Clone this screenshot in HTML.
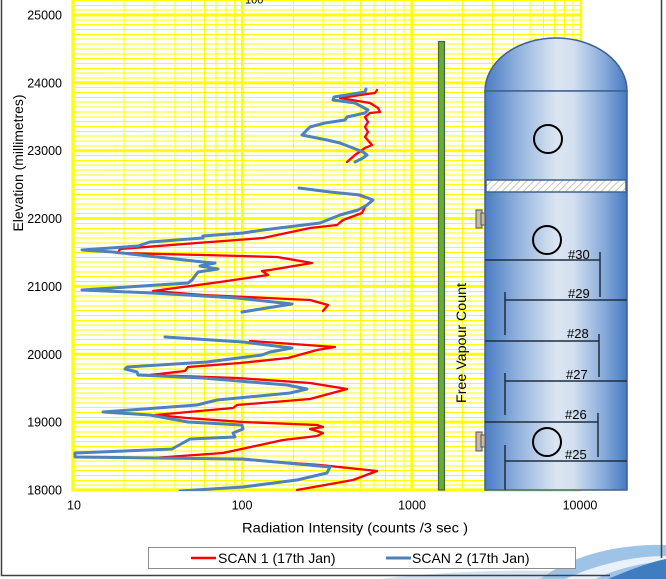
<!DOCTYPE html>
<html><head><meta charset="utf-8"><style>
html,body{margin:0;padding:0;background:#fff;}
svg{display:block;}
text{font-family:"Liberation Sans",Arial,sans-serif;fill:#000;}
</style></head><body>
<svg width="666" height="579" viewBox="0 0 666 579" xmlns="http://www.w3.org/2000/svg">
<defs>
<linearGradient id="vg" x1="485" y1="0" x2="627" y2="0" gradientUnits="userSpaceOnUse">
<stop offset="0" stop-color="#4a7cc4"/>
<stop offset="0.25" stop-color="#97b6df"/>
<stop offset="0.5" stop-color="#dbe5f2"/>
<stop offset="0.62" stop-color="#d4e0f0"/>
<stop offset="0.85" stop-color="#82a7d8"/>
<stop offset="1" stop-color="#4679c2"/>
</linearGradient>
<pattern id="hatch" width="5" height="5" patternUnits="userSpaceOnUse" patternTransform="rotate(45)">
<rect width="5" height="5" fill="#fff"/>
<line x1="0" y1="0" x2="0" y2="5" stroke="#b5b5b5" stroke-width="1.6"/>
</pattern>
<clipPath id="pc"><rect x="73" y="0" width="509" height="491"/></clipPath>
</defs>
<rect width="666" height="579" fill="#fff"/>

<!-- minor horizontal grid -->
<path fill="none" stroke="#ffff00" stroke-width="1" shape-rendering="crispEdges" d="
M73,485.15H581M73,480.31H581M73,475.46H581M73,470.61H581M73,465.77H581M73,460.92H581M73,456.07H581M73,451.22H581M73,446.38H581M73,441.53H581M73,436.68H581M73,431.84H581M73,426.99H581
M73,417.29H581M73,412.45H581M73,407.6H581M73,402.75H581M73,397.9H581M73,393.06H581M73,388.21H581M73,383.36H581M73,378.52H581M73,373.67H581M73,368.82H581M73,363.98H581M73,359.13H581
M73,349.43H581M73,344.59H581M73,339.74H581M73,334.89H581M73,330.04H581M73,325.2H581M73,320.35H581M73,315.5H581M73,310.66H581M73,305.81H581M73,300.96H581M73,296.12H581M73,291.27H581
M73,281.57H581M73,276.73H581M73,271.88H581M73,267.03H581M73,262.18H581M73,257.34H581M73,252.49H581M73,247.64H581M73,242.8H581M73,237.95H581M73,233.1H581M73,228.26H581M73,223.41H581
M73,213.71H581M73,208.87H581M73,204.02H581M73,199.17H581M73,194.32H581M73,189.48H581M73,184.63H581M73,179.78H581M73,174.94H581M73,170.09H581M73,165.24H581M73,160.4H581M73,155.55H581
M73,145.85H581M73,141.01H581M73,136.16H581M73,131.31H581M73,126.46H581M73,121.62H581M73,116.77H581M73,111.92H581M73,107.08H581M73,102.23H581M73,97.38H581M73,92.54H581M73,87.69H581
M73,77.99H581M73,73.15H581M73,68.3H581M73,63.45H581M73,58.6H581M73,53.76H581M73,48.91H581M73,44.06H581M73,39.22H581M73,34.37H581M73,29.52H581M73,24.68H581M73,19.83H581
M73,10.13H581M73,5.29H581M73,0.44H581"/>
<!-- minor vertical grid -->
<path fill="none" stroke="#ffff00" stroke-width="1" shape-rendering="crispEdges" d="
M123.97,0V490M153.78,0V490M174.93,0V490M191.33,0V490M204.74,0V490M216.07,0V490M225.89,0V490M234.55,0V490
M293.27,0V490M323.08,0V490M344.23,0V490M360.63,0V490M374.04,0V490M385.37,0V490M395.19,0V490M403.85,0V490
M462.57,0V490M492.38,0V490M513.53,0V490M529.93,0V490M543.34,0V490M554.67,0V490M564.49,0V490M573.15,0V490"/>
<!-- major grid -->
<path fill="none" stroke="#ffff00" stroke-width="3" d="M73,422.14H581M73,354.28H581M73,286.42H581M73,218.56H581M73,150.7H581M73,82.84H581M73,14.98H581"/>
<path fill="none" stroke="#ffff00" stroke-width="2.6" d="M242.3,0V490M411.6,0V490M580.9,0V490"/>
<path fill="none" stroke="#ffff00" stroke-width="3.2" d="M73,0V491.5M71.5,490H581"/>

<text x="245" y="3.5" font-size="11">100</text>

<!-- data -->
<g clip-path="url(#pc)" fill="none" stroke-linejoin="round" stroke-linecap="round">
<polyline stroke="#ff0000" stroke-width="2.3" points="377,90 375,93 367,94 340,98 370,103 378,108 380,112 370,113 365,117 368,122 365,127 368,132 365,137 372,145 365,148 355,155 347,162"/>
<polyline stroke="#ff0000" stroke-width="2.3" points="330,192 358,195 373,200 365,207 362,213 343,220 337,225 310,228 263,238 197,243 120,249 118,253 203,255 277,257 312,263 270,270 262,271 268,275 220,282 153,291 203,295 310,300 328,305 323,311"/>
<polyline stroke="#ff0000" stroke-width="2.3" points="250,341 335,347 317,350 288,358 240,363 188,367 185,371 150,375 237,378 310,383 347,389 310,399 237,405 233,408 155,415 187,418 243,422 317,425 323,427 310,429 323,433 317,436 283,440 223,453 153,458 237,459 320,465 377,471 353,480 297,490"/>
<polyline stroke="#4f81bd" stroke-width="3" points="366,89 365,92 334,97 333,100 355,103 368,110 365,113 347,117 345,120 325,123 310,127 307,130 302,135 327,140 340,143 353,148 363,152 367,155 363,158 355,162"/>
<polyline stroke="#4f81bd" stroke-width="3" points="299,188 330,192 360,195 373,200 367,205 358,210 340,215 320,223 263,230 243,233 203,236 203,238 150,242 138,246 82,250 113,252 203,262 215,263 200,266 218,269 198,272 192,280 188,283 82,290 153,293 237,298 292,304 242,312"/>
<polyline stroke="#4f81bd" stroke-width="3" points="165,337 243,342 292,348 270,352 262,355 207,362 127,367 125,369 137,372 138,375 203,378 287,385 307,389 290,393 217,400 197,405 103,412 150,415 188,422 242,425 243,429 233,433 235,437 190,439 172,449 75,453 75,457 153,458 243,459 330,467 327,473 297,480 243,487 180,491"/>
</g>

<!-- green bar -->
<rect x="438.5" y="41.5" width="6" height="448.5" fill="#62b030" stroke="#4a5f3c" stroke-width="1.2"/>
<text transform="translate(466,343) rotate(-90)" font-size="13.5" text-anchor="middle" textLength="120" lengthAdjust="spacingAndGlyphs">Free Vapour Count</text>

<!-- vessel -->
<path d="M485,91 A71,53 0 0 1 627,91 Z" fill="url(#vg)" stroke="#3f6190" stroke-width="1.5"/>
<rect x="485" y="91" width="142" height="399" fill="url(#vg)" stroke="#3f6190" stroke-width="1.5"/>
<rect x="486" y="180" width="140" height="12" fill="url(#hatch)" stroke="#3f6190" stroke-width="1.5"/>
<circle cx="548" cy="139" r="14" fill="none" stroke="#000" stroke-width="2"/>
<circle cx="547" cy="240" r="14" fill="none" stroke="#000" stroke-width="2"/>
<circle cx="547" cy="442" r="14" fill="none" stroke="#000" stroke-width="2"/>
<!-- nozzles -->
<rect x="476" y="210" width="6" height="18" fill="#c8bba8" stroke="#555" stroke-width="1"/>
<rect x="481" y="213" width="4" height="12" fill="#c8bba8" stroke="#555" stroke-width="1"/>
<rect x="476" y="432" width="6" height="19" fill="#c8bba8" stroke="#555" stroke-width="1"/>
<rect x="481" y="435" width="4" height="12" fill="#c8bba8" stroke="#555" stroke-width="1"/>
<!-- trays -->
<g stroke="#1e2e40" stroke-width="1.5" fill="none">
<path d="M485,260H600M600,252V297"/>
<path d="M505,300H627M505,292V335"/>
<path d="M485,341H599M599,334V377"/>
<path d="M505,381H627M505,373V415"/>
<path d="M485,422H598M598,413V457"/>
<path d="M505,461H627M505,445V490"/>
</g>
<g font-size="13">
<text x="568" y="259">#30</text>
<text x="568" y="298">#29</text>
<text x="567" y="338">#28</text>
<text x="566" y="379">#27</text>
<text x="565" y="419">#26</text>
<text x="565" y="459">#25</text>
</g>

<!-- axis labels -->
<g font-size="12.5" text-anchor="end" fill="#000">
<text x="62" y="19.5">25000</text>
<text x="62" y="87.3">24000</text>
<text x="62" y="155.2">23000</text>
<text x="62" y="223">22000</text>
<text x="62" y="290.9">21000</text>
<text x="62" y="358.8">20000</text>
<text x="62" y="426.6">19000</text>
<text x="62" y="494.5">18000</text>
</g>
<g font-size="12.5" text-anchor="middle">
<text x="74" y="509.5">10</text>
<text x="242" y="509.5">100</text>
<text x="412" y="509.5">1000</text>
<text x="580" y="509.5">10000</text>
</g>
<text x="242" y="532.5" font-size="14" textLength="226" lengthAdjust="spacingAndGlyphs">Radiation Intensity (counts /3 sec )</text>
<text transform="translate(23,163) rotate(-90)" font-size="14" text-anchor="middle" textLength="137" lengthAdjust="spacingAndGlyphs">Elevation (millimetres)</text>

<!-- swoosh -->
<path d="M380,579 C450,571 520,569 580,572 L580,579 Z" fill="#d3e3f3"/>
<path d="M540,579 C580,550 630,544 666,545 L666,579 Z" fill="#9ec3e6"/>
<path d="M565,579 C600,563 635,556 666,556 L666,561 C640,563 612,570 596,579 Z" fill="#e9f1fa"/>
<path d="M608,579 C630,570 650,562 666,559 L666,579 Z" fill="#3f7cc0"/>

<!-- legend -->
<rect x="148.5" y="547.5" width="427" height="21" fill="#fff" stroke="#8c8c8c" stroke-width="1"/>
<line x1="191" y1="558" x2="216" y2="558" stroke="#ff0000" stroke-width="2.5"/>
<text x="218" y="563" font-size="14">SCAN 1 (17th Jan)</text>
<line x1="386" y1="558" x2="411" y2="558" stroke="#4f81bd" stroke-width="3"/>
<text x="412" y="563" font-size="14">SCAN 2 (17th Jan)</text>

<!-- frame -->
<path d="M1.5,0V575.5H610M661.5,0V558" fill="none" stroke="#404040" stroke-width="1.5"/>
</svg>
</body></html>
